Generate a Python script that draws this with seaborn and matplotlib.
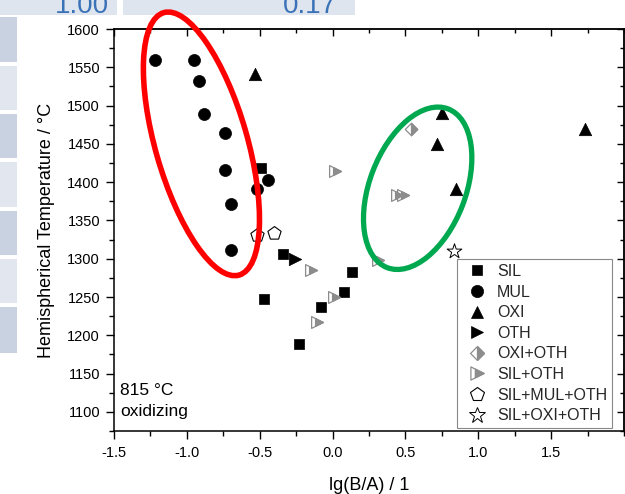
import numpy as np
import pandas as pd
import seaborn as sns
import matplotlib
matplotlib.use("Agg")
import matplotlib.pyplot as plt
from matplotlib.lines import Line2D
from matplotlib.patches import Ellipse, Rectangle
from matplotlib.path import Path
from matplotlib.ticker import FixedLocator, MultipleLocator, FormatStrFormatter, NullFormatter

# ---------------- data ----------------
categories = ["SIL", "MUL", "OXI", "OTH", "OXI+OTH", "SIL+OTH", "SIL+MUL+OTH", "SIL+OXI+OTH"]

sil_x = [-0.49, -0.34, -0.47, 0.13, 0.08, -0.08, -0.23]
sil_y = [1419, 1306, 1247, 1282, 1257, 1237, 1189]

mul_x = [-1.22, -0.95, -0.92, -0.88, -0.74, -0.74, -0.70, -0.70, -0.44, -0.52]
mul_y = [1560, 1560, 1532, 1489, 1464, 1416, 1371, 1311, 1403, 1391]

oxi_x = [-0.53, 0.75, 0.72, 0.85, 1.73]
oxi_y = [1541, 1490, 1450, 1391, 1469]

oth_x = [-0.26]
oth_y = [1300]

oxioth_x = [0.54]
oxioth_y = [1470]

siloth_x = [-0.15, 0.01, -0.11, 0.02, 0.31, 0.44, 0.48]
siloth_y = [1285, 1250, 1217, 1414, 1298, 1383, 1383]

silmuloth_x = [-0.52, -0.40]
silmuloth_y = [1331, 1333]

siloxioth_x = [0.83]
siloxioth_y = [1310]

x_ticks = [-1.5, -1.0, -0.5, 0.0, 0.5, 1.0, 1.5]
y_ticks = [1100, 1150, 1200, 1250, 1300, 1350, 1400, 1450, 1500, 1550, 1600]

xs = [sil_x, mul_x, oxi_x, oth_x, oxioth_x, siloth_x, silmuloth_x, siloxioth_x]
ys = [sil_y, mul_y, oxi_y, oth_y, oxioth_y, siloth_y, silmuloth_y, siloxioth_y]
df = pd.concat([pd.DataFrame({"x": a, "y": b, "group": g}) for a, b, g in zip(xs, ys, categories)],
               ignore_index=True)

# ---------------- style ----------------
sns.set_theme(style="ticks")
plt.rcParams["font.family"] = ["Liberation Sans", "DejaVu Sans"]
plt.rcParams["axes.unicode_minus"] = False

W, H = 625, 494
fig = plt.figure(figsize=(W / 100, H / 100), dpi=100)
fig.patch.set_facecolor("white")

# background artefacts of the screenshot (table behind the chart)
def rect_px(x0, y0, w, h, color):
    fig.add_artist(Rectangle((x0 / W, 1 - (y0 + h) / H), w / W, h / H, transform=fig.transFigure,
                             facecolor=color, edgecolor="none", zorder=-5))

rect_px(0, 0, 117, 15, "#dfe5ee")
rect_px(123, 0, 232, 15, "#dfe5ee")
cells = [(17, 62, "#c9d2e0"), (66, 110, "#e2e7ef"), (114, 158, "#c9d2e0"), (162, 207, "#e2e7ef"),
         (211, 255, "#c9d2e0"), (259, 303, "#e2e7ef"), (307, 353, "#c9d2e0")]
for y0, y1, c in cells:
    rect_px(0, y0, 17, y1 - y0, c)
fig.text(55 / W, 1 - 13 / H, "1.00", color="#3a72b8", fontsize=20, va="baseline", ha="left")
fig.text(283 / W, 1 - 13 / H, "0.17", color="#3a72b8", fontsize=20, va="baseline", ha="left")

ax = fig.add_axes([114 / W, 1 - 431 / H, 510 / W, 402 / H])
ax.set_facecolor("white")

grey = "#8c8c8c"
tri_full = Path([(-1, 1), (1, 0), (-1, -1), (-1, 1)], [1, 2, 2, 79])
tri_part = Path([(-0.33, 0.667), (1, 0), (-0.33, -0.667), (-0.33, 0.667)], [1, 2, 2, 79])
dia_full = Path([(0, 1), (1, 0), (0, -1), (-1, 0), (0, 1)], [1, 2, 2, 2, 79])
dia_part = Path([(0, 1), (1, 0), (0, -1), (0, 1)], [1, 2, 2, 79])

def sub(g):
    return df[df["group"] == g]

kw = dict(ax=ax, x="x", y="y", legend=False, zorder=4)
sns.scatterplot(data=sub("SIL"), marker="s", s=55, color="black", edgecolor="black", linewidth=0.5, **kw)
sns.scatterplot(data=sub("MUL"), marker="o", s=75, color="black", edgecolor="black", linewidth=0.5, **kw)
sns.scatterplot(data=sub("OXI"), marker="^", s=80, color="black", edgecolor="black", linewidth=0.5, **kw)
sns.scatterplot(data=sub("OTH"), marker=">", s=80, color="black", edgecolor="black", linewidth=0.5, **kw)
sns.scatterplot(data=sub("OXI+OTH"), marker=dia_full, s=80, color="white", edgecolor=grey, linewidth=0.9, **kw)
sns.scatterplot(data=sub("OXI+OTH"), marker=dia_part, s=80, color=grey, edgecolor=grey, linewidth=0.9, **kw)
sns.scatterplot(data=sub("SIL+OTH"), marker=tri_full, s=72, color="white", edgecolor=grey, linewidth=0.9, **kw)
sns.scatterplot(data=sub("SIL+OTH"), marker=tri_part, s=72, color=grey, edgecolor=grey, linewidth=0.9, **kw)
sns.scatterplot(data=sub("SIL+MUL+OTH"), marker="p", s=100, color="white", edgecolor="black", linewidth=0.8, **kw)
sns.scatterplot(data=sub("SIL+OXI+OTH"), marker="*", s=125, color="white", edgecolor="black", linewidth=0.7, **kw)

ax.set_xlim(-1.5, 2.0)
ax.set_ylim(1075, 1600)

ax.xaxis.set_major_locator(FixedLocator(x_ticks))
ax.xaxis.set_major_formatter(FormatStrFormatter("%.1f"))
ax.xaxis.set_minor_locator(MultipleLocator(0.25))
ax.yaxis.set_major_locator(FixedLocator(y_ticks))
ax.yaxis.set_minor_locator(MultipleLocator(25))
ax.tick_params(which="both", direction="out", colors="black", width=1.0, labelsize=10.5)
ax.tick_params(axis="x", pad=5)
ax.tick_params(axis="y", pad=4)
ax.tick_params(which="major", length=6)
ax.tick_params(which="minor", length=3.5)
for sp in ax.spines.values():
    sp.set_visible(True)
    sp.set_color("black")
    sp.set_linewidth(1.1)

secx = ax.secondary_xaxis("top")
secx.xaxis.set_major_locator(FixedLocator(x_ticks))
secx.xaxis.set_minor_locator(MultipleLocator(0.25))
secx.xaxis.set_major_formatter(NullFormatter())
secx.tick_params(which="both", direction="in", width=1.0, colors="black")
secx.tick_params(which="major", length=5)
secx.tick_params(which="minor", length=3)
secx.spines["top"].set_linewidth(1.1)

secy = ax.secondary_yaxis("right")
secy.yaxis.set_major_locator(FixedLocator(y_ticks))
secy.yaxis.set_minor_locator(MultipleLocator(25))
secy.yaxis.set_major_formatter(NullFormatter())
secy.tick_params(which="both", direction="in", width=1.0, colors="black")
secy.tick_params(which="major", length=5)
secy.tick_params(which="minor", length=3)
secy.spines["right"].set_linewidth(1.1)

ax.set_xlabel("lg(B/A) / 1", fontsize=13, labelpad=12, color="black")
ax.set_ylabel("Hemispherical Temperature / °C", fontsize=13, labelpad=9, color="black")

ax.text(0.012, 0.100, "815 °C", transform=ax.transAxes, fontsize=12.5, va="center", ha="left", color="black")
ax.text(0.012, 0.049, "oxidizing", transform=ax.transAxes, fontsize=12.5, va="center", ha="left", color="black")

# ---------------- legend ----------------
def h(marker, ms, mfc, mec, mew=0.5):
    return Line2D([], [], ls="", marker=marker, markersize=ms, markerfacecolor=mfc,
                  markeredgecolor=mec, markeredgewidth=mew)

handles = [
    h("s", 7.8, "black", "black"),
    h("o", 8.8, "black", "black"),
    h("^", 9.2, "black", "black"),
    h(">", 9.2, "black", "black"),
    (h(dia_full, 10.0, "white", grey, 0.9), h(dia_part, 10.0, grey, grey, 0.9)),
    (h(tri_full, 9.5, "white", grey, 0.9), h(tri_part, 9.5, grey, grey, 0.9)),
    h("p", 10.5, "white", "black", 0.8),
    h("*", 12.0, "white", "black", 0.7),
]
leg = ax.legend(handles, categories, loc="lower right", bbox_to_anchor=(0.976, 0.0075),
                borderaxespad=0, frameon=True, fancybox=False, framealpha=1, edgecolor="#888888",
                fontsize=11.5, handlelength=1.9, handletextpad=0.3, labelspacing=0.35, borderpad=0.3)
leg.get_frame().set_linewidth(0.8)
leg.set_zorder(6)

# ---------------- ellipses ----------------
def ellipse(cx_data, cy_data, w_px, h_px, angle, color, lw):
    px = ax.transData.transform((cx_data, cy_data))
    e = Ellipse((px[0] / fig.dpi, px[1] / fig.dpi), w_px / fig.dpi, h_px / fig.dpi, angle=angle,
                transform=fig.dpi_scale_trans, fill=False, edgecolor=color, linewidth=lw,
                clip_on=False, zorder=7)
    fig.add_artist(e)

ellipse(-0.90, 1450, 92, 273, 16.0, "#ff0000", 4.0)
ellipse(0.584, 1392, 96, 170, -21, "#00a850", 3.8)

fig.savefig("out.png", dpi=100, facecolor="white")
